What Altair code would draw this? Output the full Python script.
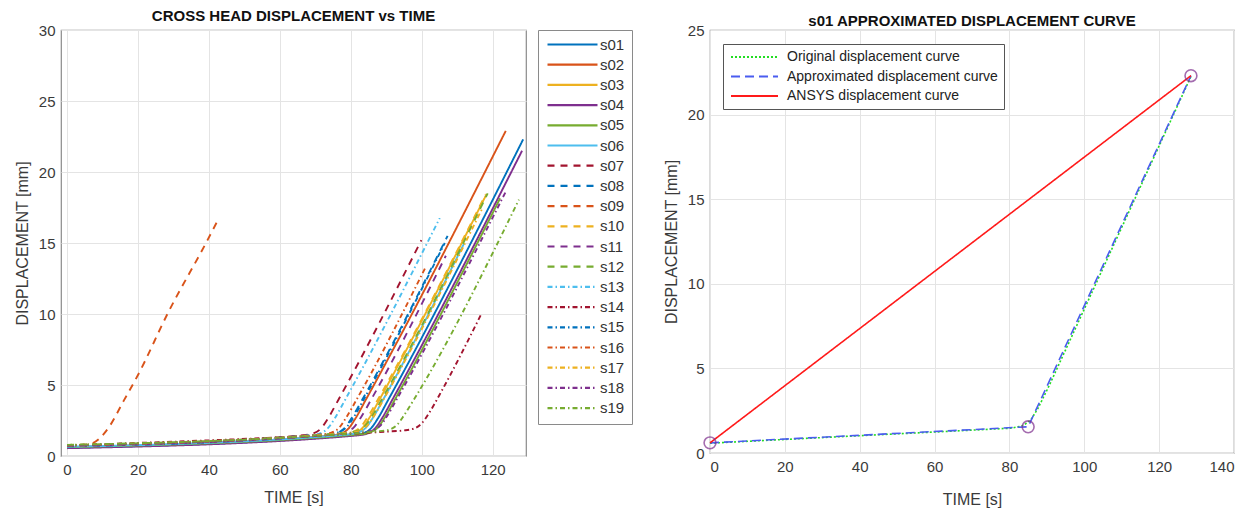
import altair as alt
import pandas as pd

# ---------------- data: left chart (cross head displacement vs time) ----------------
series = ["s01", "s02", "s03", "s04", "s05", "s06", "s07", "s08", "s09", "s10",
          "s11", "s12", "s13", "s14", "s15", "s16", "s17", "s18", "s19"]

s01_t = [0, 80.7, 83.7, 85.7, 87.7, 90.7, 128.6]
s01_y = [0.58, 1.47, 1.62, 1.95, 2.67, 4.02, 22.3]
s02_t = [0, 74.3, 77.3, 79.3, 81.3, 84.3, 123.7]
s02_y = [0.62, 1.44, 1.59, 1.92, 2.64, 3.99, 22.9]
s03_t = [0, 78.2, 81.2, 83.2, 85.2, 88.2, 118.3]
s03_y = [0.60, 1.47, 1.62, 1.95, 2.67, 4.02, 18.45]
s04_t = [0, 81.8, 84.8, 86.8, 88.8, 91.8, 128.3]
s04_y = [0.55, 1.45, 1.60, 1.93, 2.65, 4.00, 21.5]
s05_t = [0, 82.6, 85.6, 87.6, 89.6, 92.6, 122.1]
s05_y = [0.62, 1.53, 1.68, 2.00, 2.72, 4.05, 18.15]
s06_t = [0, 79.3, 82.3, 84.3, 86.3, 89.3, 112.0]
s06_y = [0.65, 1.52, 1.67, 2.00, 2.72, 4.05, 15.0]
s07_t = [0, 66.6, 69.6, 71.6, 73.6, 76.6, 99.9]
s07_y = [0.72, 1.46, 1.61, 1.94, 2.66, 4.00, 15.2]
s08_t = [0, 73.3, 76.3, 78.3, 80.3, 83.3, 107.3]
s08_y = [0.68, 1.49, 1.64, 1.97, 2.69, 4.00, 15.5]
s09_t = [0, 5, 7, 9, 12, 16, 20, 28.5, 39.6, 42.5]
s09_y = [0.75, 0.80, 0.88, 1.20, 2.10, 3.90, 5.70, 10.1, 15.2, 16.6]
s10_t = [0, 77.8, 80.8, 82.8, 84.8, 87.8, 118.0]
s10_y = [0.72, 1.58, 1.72, 2.05, 2.75, 4.05, 18.4]
s11_t = [0, 75.8, 78.8, 80.8, 82.8, 85.8, 106.8]
s11_y = [0.70, 1.54, 1.69, 2.00, 2.70, 4.00, 14.1]
s12_t = [0, 79.0, 82.0, 84.0, 86.0, 89.0, 118.6]
s12_y = [0.78, 1.65, 1.78, 2.10, 2.80, 4.10, 18.5]
s13_t = [0, 68.5, 71.5, 73.5, 75.5, 78.5, 105.1]
s13_y = [0.70, 1.46, 1.61, 1.94, 2.66, 4.00, 16.76]
s14_t = [0, 90.0, 95.0, 98.0, 100.0, 102.2, 105.0, 116.8]
s14_y = [0.75, 1.72, 1.80, 1.95, 2.30, 3.07, 4.30, 10.0]
s15_t = [0, 73.8, 76.8, 78.8, 80.8, 83.8, 106.5]
s15_y = [0.74, 1.56, 1.70, 2.02, 2.72, 4.05, 15.0]
s16_t = [0, 71.7, 74.7, 76.7, 78.7, 81.7, 100.9]
s16_y = [0.72, 1.51, 1.66, 1.98, 2.70, 4.00, 13.2]
s17_t = [0, 79.5, 82.5, 84.5, 86.5, 89.5, 117.2]
s17_y = [0.76, 1.64, 1.77, 2.10, 2.80, 4.10, 17.5]
s18_t = [0, 83.2, 86.2, 88.2, 90.2, 93.2, 123.8]
s18_y = [0.74, 1.66, 1.79, 2.10, 2.80, 4.10, 18.67]
s19_t = [0, 88.1, 91.1, 93.1, 95.1, 98.1, 127.4]
s19_y = [0.78, 1.75, 1.88, 2.20, 2.90, 4.10, 18.05]

x_ticks_left = [0, 20, 40, 60, 80, 100, 120]
y_ticks_left = [0, 5, 10, 15, 20, 25, 30]

# ---------------- data: right chart (s01 approximated curve) ----------------
curves = ["Original displacement curve", "Approximated displacement curve", "ANSYS displacement curve"]
orig_t = s01_t
orig_y = s01_y
appr_t = [0, 85.0, 128.5]
appr_y = [0.6, 1.55, 22.3]
ansys_t = [0, 128.5]
ansys_y = [0.6, 22.3]
x_ticks_right = [0, 20, 40, 60, 80, 100, 120, 140]
y_ticks_right = [0, 5, 10, 15, 20, 25]

# ---------------- styles ----------------
matlab = ["#0072BD", "#D95319", "#EDB120", "#7E2F8E", "#77AC30", "#4DBEEE", "#A2142F"]
series_colors = [matlab[i % 7] for i in range(19)]
SOLID, DASH, DASHDOT = [1, 0], [7, 6], [5, 3, 1.5, 3]
series_dash = [SOLID] * 6 + [DASH] * 6 + [DASHDOT] * 7

FONT = "Liberation Sans"
TXT = "#3a3a3a"

# ---------------- build tables ----------------
all_t = [s01_t, s02_t, s03_t, s04_t, s05_t, s06_t, s07_t, s08_t, s09_t, s10_t,
         s11_t, s12_t, s13_t, s14_t, s15_t, s16_t, s17_t, s18_t, s19_t]
all_y = [s01_y, s02_y, s03_y, s04_y, s05_y, s06_y, s07_y, s08_y, s09_y, s10_y,
         s11_y, s12_y, s13_y, s14_y, s15_y, s16_y, s17_y, s18_y, s19_y]
rows = []
for name, ts, ys in zip(series, all_t, all_y):
    for k, (t, y) in enumerate(zip(ts, ys)):
        rows.append({"series": name, "t": t, "y": y, "k": k})
df_left = pd.DataFrame(rows)

rrows = []
for name, ts, ys in zip(curves, [orig_t, appr_t, ansys_t], [orig_y, appr_y, ansys_y]):
    for k, (t, y) in enumerate(zip(ts, ys)):
        rrows.append({"curve": name, "t": t, "y": y, "k": k})
df_right = pd.DataFrame(rrows)
df_pts = pd.DataFrame({"t": appr_t, "y": appr_y})

# ---------------- left chart ----------------
left = alt.Chart(df_left).mark_line(strokeWidth=1.9, interpolate="monotone").encode(
    x=alt.X("t:Q", scale=alt.Scale(domain=[-1.7, 129.4], nice=False, zero=False),
            axis=alt.Axis(values=x_ticks_left, title="TIME [s]", titlePadding=12)),
    y=alt.Y("y:Q", scale=alt.Scale(domain=[0, 30], nice=False),
            axis=alt.Axis(values=y_ticks_left, title="DISPLACEMENT [mm]", titlePadding=8)),
    color=alt.Color("series:N", scale=alt.Scale(domain=series, range=series_colors),
                    legend=alt.Legend(title=None, orient="right", offset=11, padding=7,
                                      strokeColor="#8a8a8a", fillColor="white",
                                      symbolType="M-1,0H9", symbolSize=100, symbolStrokeWidth=2.2,
                                      labelFontSize=15, labelFont=FONT, labelColor="#333",
                                      rowPadding=4.2, labelOffset=40)),
    strokeDash=alt.StrokeDash("series:N", scale=alt.Scale(domain=series, range=series_dash),
                              legend=alt.Legend(title=None)),
    order="k:Q",
).properties(
    width=465, height=426,
    title=alt.TitleParams("CROSS HEAD DISPLACEMENT vs TIME", fontSize=15, font=FONT,
                          fontWeight="bold", color="#111", offset=-3, dy=-2),
)

# ---------------- right chart ----------------
r_lines = alt.Chart(df_right).mark_line(strokeWidth=1.6).encode(
    x=alt.X("t:Q", scale=alt.Scale(domain=[0, 140], nice=False),
            axis=alt.Axis(values=x_ticks_right, title="TIME [s]", titlePadding=17)),
    y=alt.Y("y:Q", scale=alt.Scale(domain=[0, 25], nice=False),
            axis=alt.Axis(values=y_ticks_right, title="DISPLACEMENT [mm]", titlePadding=8)),
    color=alt.Color("curve:N", scale=alt.Scale(domain=curves, range=["#22dd22", "#4a5cf0", "#ff1a1a"]),
                    legend=alt.Legend(title=None, orient="none", legendX=13, legendY=14, padding=6,
                                      strokeColor="#555", fillColor="white",
                                      symbolType="M-1,0H8.4", symbolSize=100, symbolStrokeWidth=2,
                                      labelFontSize=14, labelFont=FONT, labelColor="#222",
                                      labelLimit=400, rowPadding=5.5, labelOffset=44)),
    strokeDash=alt.StrokeDash("curve:N", scale=alt.Scale(domain=curves, range=[[2, 2], [9, 5], [1, 0]]),
                              legend=alt.Legend(title=None)),
    order="k:Q",
)
r_pts = alt.Chart(df_pts).mark_point(shape="circle", size=140, filled=False,
                                     color="#7E2F8E", strokeWidth=1.6).encode(
    x="t:Q", y="y:Q")

right = alt.layer(r_lines, r_pts).properties(
    width=524, height=423,
    title=alt.TitleParams("s01 APPROXIMATED DISPLACEMENT CURVE", fontSize=15, font=FONT,
                          fontWeight="bold", color="#111", offset=-3, dy=3),
)

chart = alt.hconcat(left, right, spacing=28).resolve_scale(
    color="independent", strokeDash="independent", x="independent", y="independent"
).configure(
    padding={"left": 5, "top": 0, "right": 0, "bottom": 0},
).configure_view(
    stroke="#8a8a8a", strokeWidth=1.2,
).configure_axis(
    grid=True, gridColor="#e4e4e4", domain=False, tickSize=0,
    labelFont=FONT, labelFontSize=15, labelColor=TXT, labelPadding=6,
    titleFont=FONT, titleFontSize=16, titleFontWeight="normal", titleColor=TXT,
)

chart.save("out.html", embed_options={"renderer": "svg", "actions": False})
